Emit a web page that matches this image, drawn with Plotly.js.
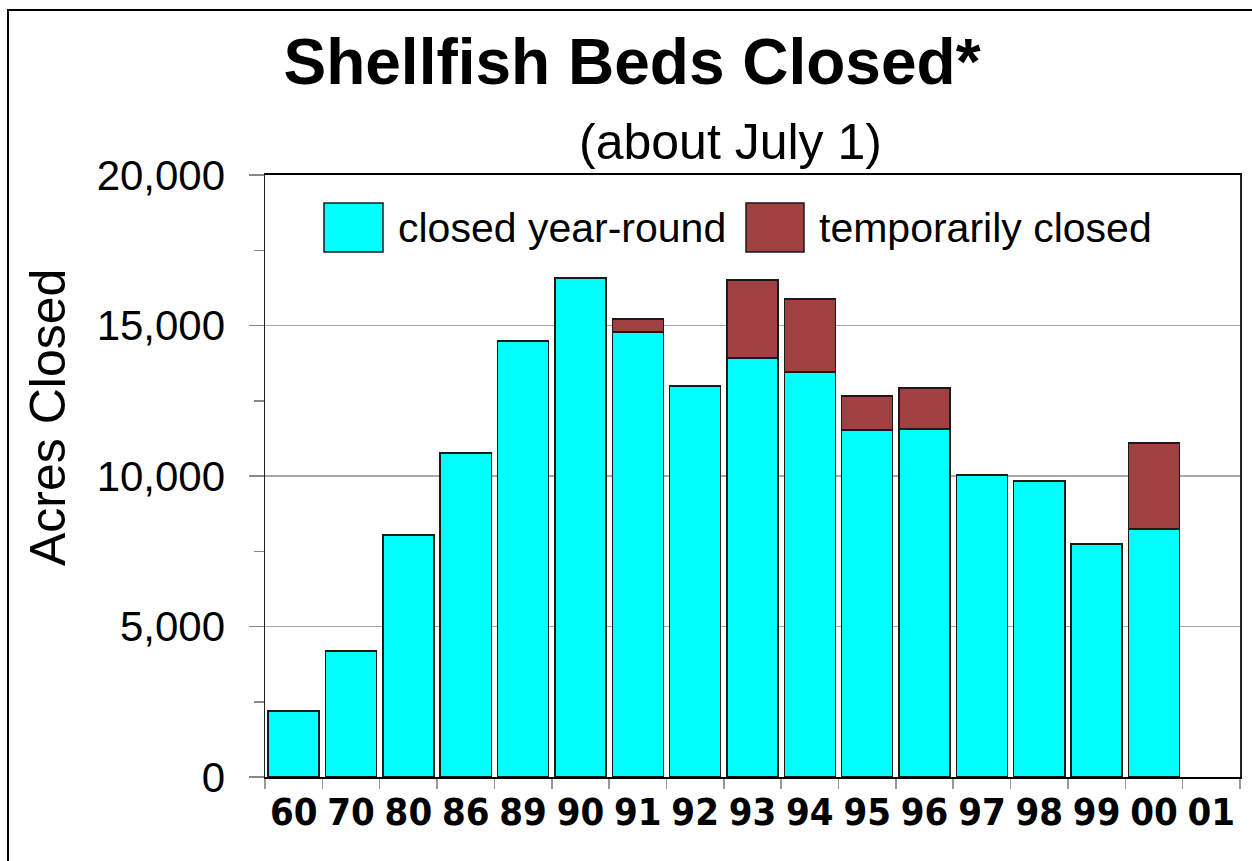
<!DOCTYPE html>
<html>
<head>
<meta charset="utf-8">
<script src="https://cdn.plot.ly/plotly-3.0.1.min.js"></script>
<style>html,body{margin:0;padding:0;background:#fff;}#chart{width:1252px;height:861px;}</style>
</head>
<body>
<div id="chart"></div>
<script>
// Data
const years = ['60','70','80','86','89','90','91','92','93','94','95','96','97','98','99','00','01'];
const closedYearRound = [2190, 4190, 8040, 10760, 14490, 16580, 14780, 12990, 13920, 13450, 11530, 11560, 10030, 9830, 7740, 8240, null];
const temporarilyClosed = [0, 0, 0, 0, 0, 0, 430, 0, 2590, 2430, 1130, 1360, 0, 0, 0, 2860, null];
const seriesNames = ['closed year-round', 'temporarily closed'];
const seriesColors = ['#00FFFF', '#A04040'];
const yTickVals = [0, 5000, 10000, 15000, 20000];

// Plot-area pixel geometry helpers (for legend/frame placement only)
const W = 1252, H = 861, L = 265, R = 12, T = 175, B = 84;
const pw = W - L - R, ph = H - T - B;
const px = x => (x - L) / pw;
const py = y => (H - B - y) / ph;

const traces = [
  {
    type: 'bar', name: seriesNames[0], x: years, y: closedYearRound,
    marker: {color: seriesColors[0], line: {color: '#1a1a1a', width: 1.5}},
    showlegend: false, hoverinfo: 'x+y'
  },
  {
    type: 'bar', name: seriesNames[1], x: years, y: temporarilyClosed,
    marker: {color: seriesColors[1], line: {color: '#1a1a1a', width: 1.5}},
    showlegend: false, hoverinfo: 'x+y'
  }
];

const legendShapes = [
  {type: 'rect', xref: 'paper', yref: 'paper', x0: px(324), x1: px(383), y0: py(252), y1: py(203),
   fillcolor: seriesColors[0], line: {color: '#1a1a1a', width: 1.5}},
  {type: 'rect', xref: 'paper', yref: 'paper', x0: px(746), x1: px(804), y0: py(252), y1: py(203),
   fillcolor: seriesColors[1], line: {color: '#1a1a1a', width: 1.5}},
  // outer frame (left and top edges visible)
  {type: 'rect', xref: 'paper', yref: 'paper', x0: px(8), x1: px(1280), y0: py(900), y1: py(10),
   line: {color: '#000', width: 2}, fillcolor: 'rgba(0,0,0,0)', layer: 'below'}
];

const layout = {
  width: W, height: H,
  margin: {l: L, r: R, t: T, b: B, pad: 0},
  paper_bgcolor: '#fff', plot_bgcolor: '#fff',
  barmode: 'stack', bargap: 0.11,
  font: {family: 'Liberation Sans, Arial, sans-serif', color: '#000'},
  title: {
    text: '<b>Shellfish Beds Closed*</b>',
    font: {family: 'Liberation Sans, Arial, sans-serif', size: 64, color: '#000'},
    xref: 'container', x: 632 / W, xanchor: 'center',
    yref: 'container', y: 1 - 62 / H, yanchor: 'middle'
  },
  xaxis: {
    type: 'category',
    showline: true, linecolor: '#000', linewidth: 2, mirror: true,
    ticks: 'outside', tickson: 'boundaries', ticklen: 10, tickcolor: '#999', tickwidth: 1.5,
    tickangle: 0,
    tickfont: {family: 'Liberation Sans Narrow, Arial Narrow, DejaVu Sans Condensed, sans-serif', size: 38, color: '#000', weight: 'bold'},
    showgrid: false, zeroline: false, fixedrange: true
  },
  yaxis: {
    range: [0, 20000], tickvals: yTickVals, tickformat: ',d',
    showline: true, linecolor: '#222', linewidth: 1.5, mirror: true,
    ticks: 'outside', ticklen: 15, tickcolor: '#888', tickwidth: 1.5,
    ticklabelstandoff: 15,
    tickfont: {family: 'Liberation Sans, Arial, sans-serif', size: 42, color: '#000'},
    minor: {dtick: 2500, ticks: 'outside', ticklen: 10, tickcolor: '#888', tickwidth: 1.5, showgrid: false},
    showgrid: true, gridcolor: '#a8a8a8', gridwidth: 1.5,
    zeroline: false, fixedrange: true
  },
  shapes: legendShapes,
  annotations: [
    {text: '(about July 1)', xref: 'paper', yref: 'paper', x: px(730), y: py(142),
     xanchor: 'center', yanchor: 'middle', showarrow: false,
     font: {family: 'Liberation Sans, Arial, sans-serif', size: 50, color: '#000'}},
    {text: 'Acres Closed', xref: 'paper', yref: 'paper', x: px(48), y: py(418),
     xanchor: 'center', yanchor: 'middle', textangle: -90, showarrow: false,
     font: {family: 'Liberation Sans, Arial, sans-serif', size: 50, color: '#000'}},
    {text: seriesNames[0], xref: 'paper', yref: 'paper', x: px(396), y: py(228),
     xanchor: 'left', yanchor: 'middle', showarrow: false,
     font: {family: 'Liberation Sans, Arial, sans-serif', size: 41, color: '#000'}},
    {text: seriesNames[1], xref: 'paper', yref: 'paper', x: px(817), y: py(228),
     xanchor: 'left', yanchor: 'middle', showarrow: false,
     font: {family: 'Liberation Sans, Arial, sans-serif', size: 41, color: '#000'}}
  ],
  showlegend: false
};

Plotly.newPlot('chart', traces, layout, {displayModeBar: false, staticPlot: true});
</script>
</body>
</html>
